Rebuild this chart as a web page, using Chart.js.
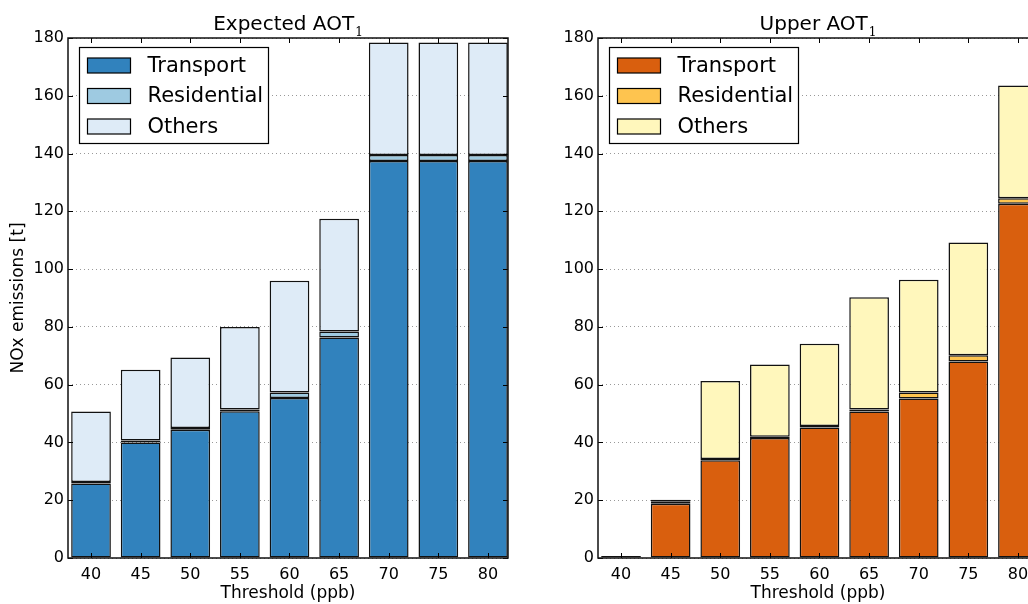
<!DOCTYPE html>
<html>
<head>
<meta charset="utf-8">
<script src="https://cdn.jsdelivr.net/npm/chart.js@4/dist/chart.umd.min.js"></script>
<style>
  html, body { margin: 0; padding: 0; background: #fff; }
  body { width: 1028px; height: 604px; overflow: hidden; position: relative; }
  canvas { position: absolute; top: 0; }
  #expected { left: 0; }
  #upper { left: 530px; }
</style>
</head>
<body>
<canvas id="expected" width="540" height="604"></canvas>
<canvas id="upper" width="540" height="604"></canvas>
<script>
// ---- data ----
const thresholds = [40, 45, 50, 55, 60, 65, 70, 75, 80];
const yTicks = [0, 20, 40, 60, 80, 100, 120, 140, 160, 180];

// Expected AOT1
const expTransport   = [25.8, 40.0, 44.4, 50.8, 55.4, 76.3, 137.4, 137.4, 137.4];
const expResidential = [0.5, 0.7, 0.6, 0.6, 1.9, 2.1, 2.1, 2.1, 2.1];
const expOthers      = [24.4, 24.5, 24.4, 28.6, 38.7, 39.0, 38.9, 38.9, 38.9];

// Upper AOT1
const upTransport   = [0.3, 18.8, 33.8, 41.5, 45.2, 50.7, 55.2, 68.0, 122.6];
const upResidential = [0, 0.7, 0.5, 0.5, 0.5, 0.7, 2.1, 2.2, 1.9];
const upOthers      = [0, 0.7, 27.0, 25.0, 28.5, 38.9, 39.0, 39.0, 39.1];

const seriesNames = ['Transport', 'Residential', 'Others'];
const blues   = ['#3182bd', '#9ecae1', '#deebf7'];
const oranges = ['#d95f0e', '#fec44f', '#fff7bc'];

const FONT = "'DejaVu Sans', sans-serif";

// frame, inward ticks, inner legend and title with subscript
const decoPlugin = {
  id: 'deco',
  afterDraw(chart, args, opts) {
    const ctx = chart.ctx;
    const a = chart.chartArea;
    const xs = chart.scales.x, ys = chart.scales.y;
    ctx.save();

    // ticks pointing inwards on all four sides
    ctx.strokeStyle = '#000';
    ctx.lineWidth = 1;
    ctx.beginPath();
    thresholds.forEach(v => {
      const px = Math.round(xs.getPixelForValue(v)) + 0.5;
      ctx.moveTo(px, a.top); ctx.lineTo(px, a.top + 5);
      ctx.moveTo(px, a.bottom); ctx.lineTo(px, a.bottom - 5);
    });
    yTicks.forEach(v => {
      const py = Math.round(ys.getPixelForValue(v)) + 0.5;
      ctx.moveTo(a.left, py); ctx.lineTo(a.left + 5, py);
      ctx.moveTo(a.right, py); ctx.lineTo(a.right - 5, py);
    });
    ctx.stroke();

    // axes frame
    ctx.lineWidth = 1.5;
    ctx.strokeStyle = '#111';
    ctx.strokeRect(a.left, a.top, a.right - a.left, a.bottom - a.top);

    // legend box
    const bx = a.left + 11.5, by = a.top + 9.5, bw = 189, bh = 96;
    ctx.fillStyle = '#fff';
    ctx.fillRect(bx, by, bw, bh);
    ctx.lineWidth = 1.2;
    ctx.strokeStyle = '#000';
    ctx.strokeRect(bx, by, bw, bh);
    ctx.font = '21px ' + FONT;
    ctx.textBaseline = 'middle';
    ctx.textAlign = 'left';
    chart.data.datasets.forEach((ds, i) => {
      const cy = by + 18 + i * 30.5;
      ctx.fillStyle = ds.backgroundColor;
      ctx.fillRect(bx + 8, cy - 7.5, 43, 15);
      ctx.lineWidth = 1.2;
      ctx.strokeRect(bx + 8, cy - 7.5, 43, 15);
      ctx.fillStyle = '#000';
      ctx.fillText(ds.label, bx + 68, cy + 1);
    });

    // title
    const cx = (a.left + a.right) / 2;
    ctx.font = '20px ' + FONT;
    const w1 = ctx.measureText(opts.title).width;
    ctx.font = "12px 'DejaVu Serif', serif";
    const w2 = ctx.measureText(opts.sub).width;
    const x0 = cx - (w1 + w2 + 1) / 2;
    ctx.textBaseline = 'alphabetic';
    ctx.fillStyle = '#000';
    ctx.font = '20px ' + FONT;
    ctx.fillText(opts.title, x0, 29.5);
    ctx.font = "12px 'DejaVu Serif', serif";
    ctx.fillText(opts.sub, x0 + w1 + 1, 35.5);

    ctx.restore();
  }
};

function makeChart(id, title, values, colors, showYTitle) {
  const datasets = values.map((arr, i) => ({
    label: seriesNames[i],
    data: arr.map((v, j) => ({ x: thresholds[j], y: v })),
    backgroundColor: colors[i],
    borderColor: '#111',
    borderWidth: 1.5,
    borderSkipped: false,
    minBarLength: i === 0 ? 2 : 0,
    barPercentage: 0.8,
    categoryPercentage: 1.0
  }));

  return new Chart(document.getElementById(id), {
    type: 'bar',
    data: { datasets: datasets },
    options: {
      responsive: false,
      animation: false,
      devicePixelRatio: 1,
      layout: { padding: { top: 38, right: 32, bottom: 0, left: 0 } },
      plugins: {
        legend: { display: false },
        tooltip: { enabled: false },
        deco: { title: title, sub: '1' }
      },
      scales: {
        x: {
          type: 'linear',
          stacked: true,
          offset: false,
          min: 37.68,
          max: 82.02,
          afterBuildTicks: s => { s.ticks = thresholds.map(v => ({ value: v })); },
          afterFit: s => { s.height = 46; },
          grid: { display: false, offset: false, drawTicks: false },
          border: { display: false },
          ticks: { color: '#000', font: { family: FONT, size: 16 }, padding: 7, maxRotation: 0 },
          title: {
            display: true, text: 'Threshold (ppb)', color: '#000',
            font: { family: FONT, size: 17 }, padding: { top: 0, bottom: 0 }
          }
        },
        y: {
          stacked: true,
          min: 0,
          max: 180,
          afterBuildTicks: s => { s.ticks = yTicks.map(v => ({ value: v })); },
          afterFit: s => { s.width = 68; },
          grid: { color: '#999', lineWidth: 1, drawTicks: false },
          border: { display: false, dash: [1, 3] },
          ticks: { color: '#000', font: { family: FONT, size: 16 }, padding: 4 },
          title: {
            display: showYTitle, text: 'NOx emissions [t]', color: '#000',
            font: { family: FONT, size: 17 }, padding: { top: 8, bottom: 0 }
          }
        }
      }
    },
    plugins: [decoPlugin]
  });
}

makeChart('expected', 'Expected AOT', [expTransport, expResidential, expOthers], blues, true);
makeChart('upper', 'Upper AOT', [upTransport, upResidential, upOthers], oranges, false);
</script>
</body>
</html>
